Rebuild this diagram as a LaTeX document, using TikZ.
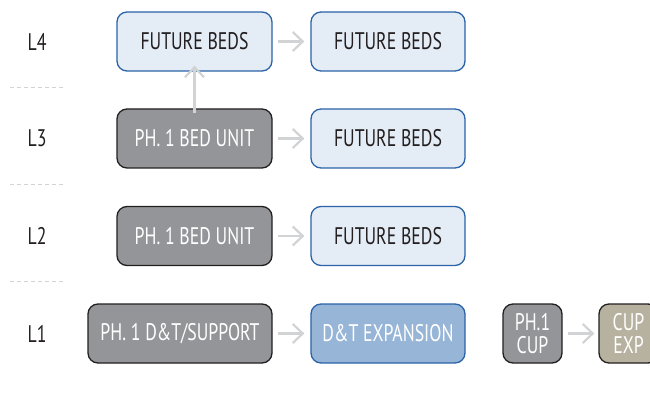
\documentclass[tikz,border=0pt]{standalone}
\usepackage{fontspec}
\setmainfont{PT Sans}[FakeStretch=0.74]
\usepackage{tikz}
\usetikzlibrary{arrows.meta}
\definecolor{box_gray}{HTML}{939598}
\definecolor{box_edge}{HTML}{231F20}
\definecolor{light_blue}{HTML}{E4ECF5}
\definecolor{mid_blue}{HTML}{97B5D6}
\definecolor{edge_blue}{HTML}{2A63A8}
\definecolor{cup_tan}{HTML}{B7B1A0}
\definecolor{arrow_gray}{HTML}{D2D3D4}

\begin{document}
\begin{tikzpicture}[x=1pt,y=-1pt,
    bloc/.style={rounded corners=10pt,minimum height=59pt,line width=1.3pt,font=\fontsize{24}{23}\selectfont,inner sep=0pt,align=center},
    existant/.style={bloc,fill=box_gray,draw=box_edge,text=white},
    futur/.style={bloc,fill=light_blue,draw=edge_blue,text=box_edge,minimum width=154pt},
    fleche/.style={-{Straight Barb[length=10pt,width=19pt,line width=2.2pt]},arrow_gray,line width=2.4pt},
    niveau/.style={font=\fontsize{24}{23}\selectfont,text=box_edge}]

        % Cadre de l'image
        \useasboundingbox (0,0) rectangle (650,398);

        % Noms des niveaux et séparations en tirets
        \node[niveau] (L4) at (37,41.5) {L4};
        \node[niveau] (L3) at (37,138.5) {L3};
        \node[niveau] (L2) at (37,236) {L2};
        \node[niveau] (L1) at (37,333.5) {L1};
        \draw[arrow_gray,dash pattern=on 4pt off 3pt] (10,87) -- (63,87) (10,184) -- (63,184) (10,281) -- (63,281);

        % Blocs de la premiere colonne
        \node[futur,minimum width=155pt] (F4) at (194.5,41.5) {FUTURE BEDS};
        \node[existant,minimum width=155pt] (P3) at (194.5,138.5) {PH. 1 BED UNIT};
        \node[existant,minimum width=155pt] (P2) at (194.5,236) {PH. 1 BED UNIT};
        \node[existant,minimum width=184pt] (P1) at (180,333.5) {PH. 1 D\&T/SUPPORT};

        % Blocs de la deuxieme colonne
        \node[futur] (G4) at (388,41.5) {FUTURE BEDS};
        \node[futur] (G3) at (388,138.5) {FUTURE BEDS};
        \node[futur] (G2) at (388,236) {FUTURE BEDS};
        \node[futur,fill=mid_blue,text=white] (DT) at (388,333.5) {D\&T EXPANSION};

        % Centrale (CUP)
        \node[existant,minimum width=59pt] (C1) at (532.5,333.5) {PH.1\\CUP};
        \node[bloc,fill=cup_tan,draw=box_edge,text=white,minimum width=59pt] (C2) at (628.5,333.5) {CUP\\EXP};

        % Fleches
        \draw[fleche] ([xshift=5pt]F4.east) -- ([xshift=-6pt]G4.west);
        \draw[fleche] ([xshift=5pt]P3.east) -- ([xshift=-6pt]G3.west);
        \draw[fleche] ([xshift=5pt]P2.east) -- ([xshift=-6pt]G2.west);
        \draw[fleche] ([xshift=5pt]P1.east) -- ([xshift=-6pt]DT.west);
        \draw[fleche] ([xshift=5pt]C1.east) -- ([xshift=-4pt]C2.west);
        \draw[fleche] ([yshift=-5pt]P3.north) -- ([yshift=6pt]F4.south);
    \end{tikzpicture}
\end{document}
